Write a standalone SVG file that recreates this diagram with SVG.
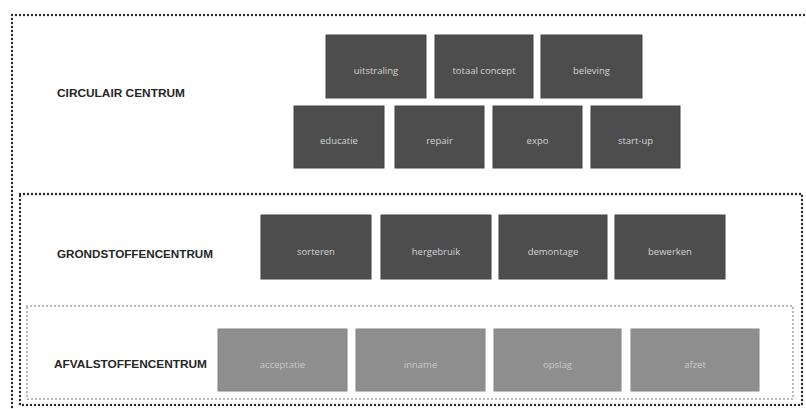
<svg xmlns="http://www.w3.org/2000/svg" width="806" height="409" viewBox="0 0 806 409">
  <style>
    .zone { fill: none; stroke-linecap: round; }
    .zone-dark { stroke: #2a2a2a; stroke-width: 2.4; stroke-dasharray: 0 4; }
    .zone-light { stroke: #9a9a9a; stroke-width: 1.8; stroke-dasharray: 0 4; }
    .label { font-family: "Liberation Sans", Arial, sans-serif; font-weight: bold; font-size: 10px; fill: #262626; }
    .box-dark rect { fill: #4d4d4d; stroke: #454545; stroke-width: 1; }
    .box-light rect { fill: #8e8e8e; stroke: #858585; stroke-width: 1; }
    .box-dark text { font-family: "Open Sans", "Liberation Sans", sans-serif; font-size: 9.5px; fill: #d4d4d4; text-anchor: middle; dominant-baseline: central; }
    .box-light text { font-family: "Open Sans", "Liberation Sans", sans-serif; font-size: 9.5px; fill: #c9c9c9; text-anchor: middle; dominant-baseline: central; }
  </style>
  <rect width="806" height="409" fill="#ffffff"/>

  <!-- dotted zone frames -->
  <g id="zones">
    <rect id="zone-circulair" class="zone zone-dark" x="12" y="15" width="810" height="420"/>
    <rect id="zone-grondstoffen" class="zone zone-dark" x="20" y="194" width="782" height="211"/>
    <rect id="zone-afvalstoffen" class="zone zone-light" x="27" y="306" width="766" height="93"/>
  </g>

  <!-- zone titles -->
  <text class="label" x="57" y="97" textLength="128" lengthAdjust="spacingAndGlyphs">CIRCULAIR CENTRUM</text>
  <text class="label" x="57" y="258" textLength="156" lengthAdjust="spacingAndGlyphs">GRONDSTOFFENCENTRUM</text>
  <text class="label" x="54" y="368" textLength="153" lengthAdjust="spacingAndGlyphs">AFVALSTOFFENCENTRUM</text>

  <!-- circulair centrum, upper row -->
  <g id="uitstraling" class="box-dark"><rect x="326" y="35" width="100" height="63"/><text x="376" y="70">uitstraling</text></g>
  <g id="totaal-concept" class="box-dark"><rect x="435" y="35" width="98" height="63"/><text x="484" y="70">totaal concept</text></g>
  <g id="beleving" class="box-dark"><rect x="541" y="35" width="101" height="63"/><text x="591.5" y="70">beleving</text></g>

  <!-- circulair centrum, lower row -->
  <g id="educatie" class="box-dark"><rect x="294" y="106" width="90" height="62"/><text x="339" y="140">educatie</text></g>
  <g id="repair" class="box-dark"><rect x="395" y="106" width="89" height="62"/><text x="439.5" y="140">repair</text></g>
  <g id="expo" class="box-dark"><rect x="493" y="106" width="89" height="62"/><text x="537.5" y="140">expo</text></g>
  <g id="start-up" class="box-dark"><rect x="591" y="106" width="89" height="62"/><text x="635.5" y="140">start-up</text></g>

  <!-- grondstoffencentrum -->
  <g id="sorteren" class="box-dark"><rect x="261" y="215" width="110" height="64"/><text x="316" y="251">sorteren</text></g>
  <g id="hergebruik" class="box-dark"><rect x="381" y="215" width="110" height="64"/><text x="436" y="251">hergebruik</text></g>
  <g id="demontage" class="box-dark"><rect x="499" y="215" width="108" height="64"/><text x="553" y="251">demontage</text></g>
  <g id="bewerken" class="box-dark"><rect x="615" y="215" width="110" height="64"/><text x="670" y="251">bewerken</text></g>

  <!-- afvalstoffencentrum -->
  <g id="acceptatie" class="box-light"><rect x="218" y="329" width="129" height="62"/><text x="282.5" y="364">acceptatie</text></g>
  <g id="inname" class="box-light"><rect x="356" y="329" width="129" height="62"/><text x="420.5" y="364">inname</text></g>
  <g id="opslag" class="box-light"><rect x="494" y="329" width="127" height="62"/><text x="557.5" y="364">opslag</text></g>
  <g id="afzet" class="box-light"><rect x="631" y="329" width="128" height="62"/><text x="695" y="364">afzet</text></g>
</svg>
